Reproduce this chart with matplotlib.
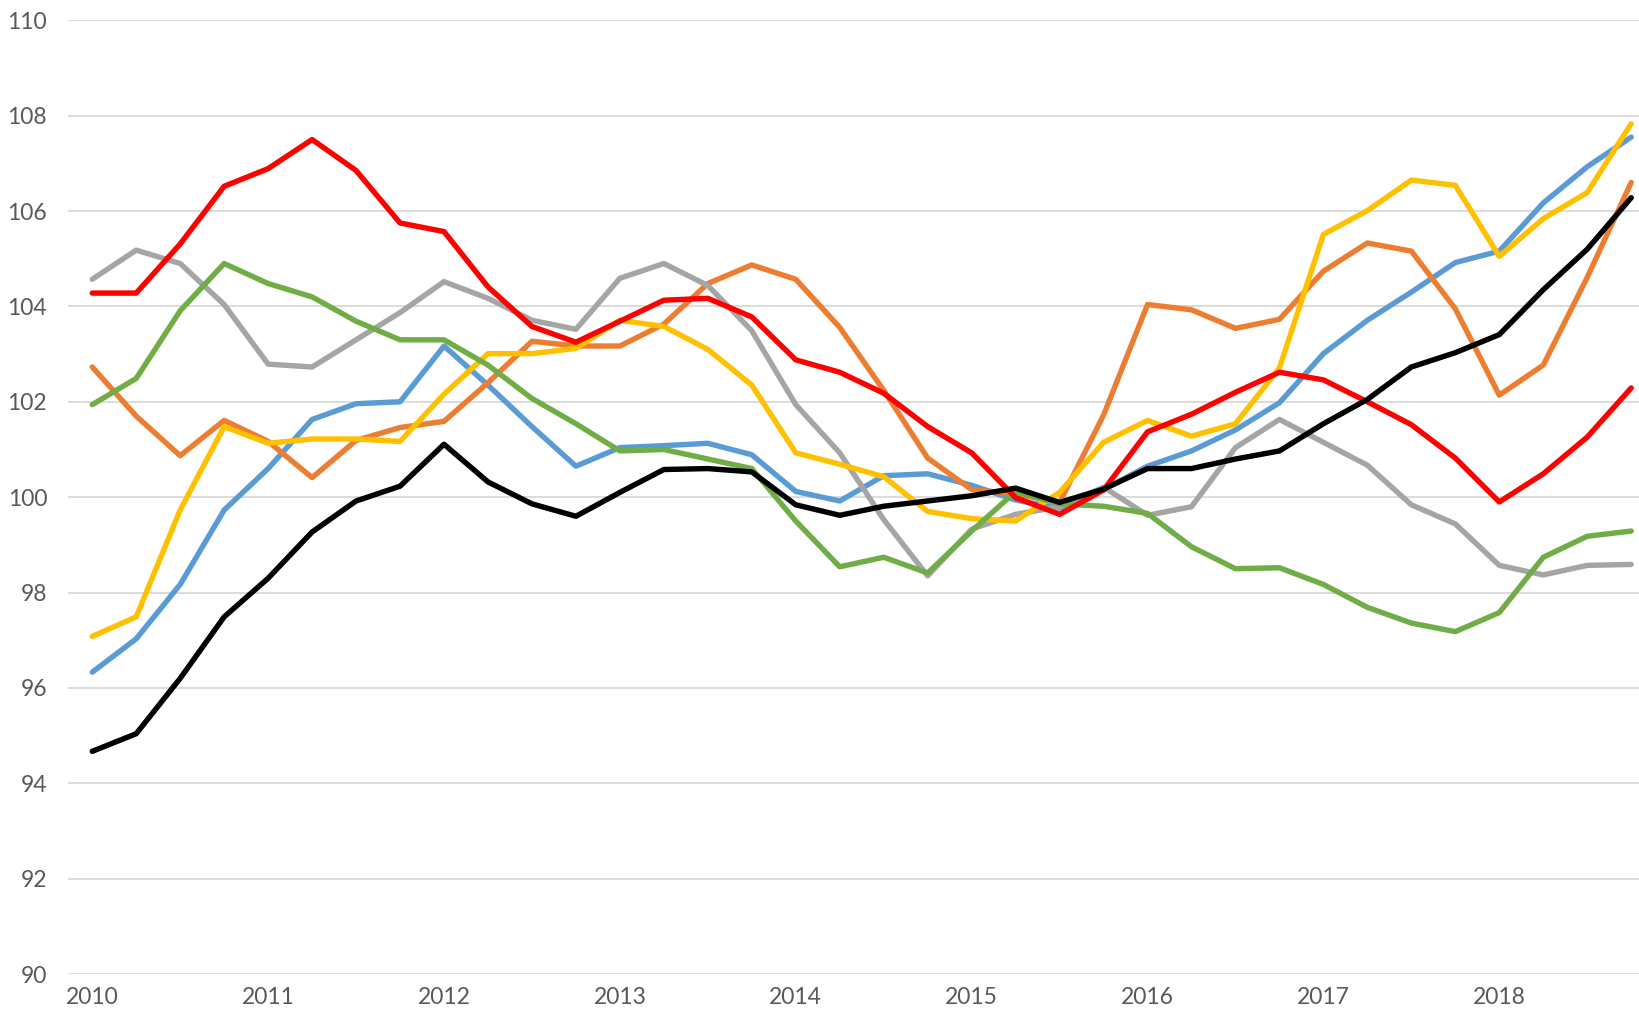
import numpy as np
import matplotlib.pyplot as plt

# quarterly index, 2010Q1 .. 2018Q4
years = list(range(2010, 2019))

blue = [96.33, 97.03, 98.17, 99.73, 100.6, 101.63, 101.96, 102.0, 103.17, 102.35,
        101.48, 100.65, 101.04, 101.08, 101.13, 100.89, 100.12, 99.92, 100.45, 100.49,
        100.25, 99.94, 99.77, 100.16, 100.65, 100.97, 101.41, 101.98, 103.01, 103.71,
        104.3, 104.92, 105.16, 106.17, 106.93, 107.55]
orange = [102.73, 101.7, 100.87, 101.61, 101.17, 100.41, 101.19, 101.46, 101.59, 102.4,
          103.27, 103.17, 103.17, 103.63, 104.48, 104.87, 104.57, 103.56, 102.24, 100.82,
          100.16, 100.07, 99.89, 101.72, 104.04, 103.93, 103.54, 103.73, 104.74, 105.33,
          105.16, 103.95, 102.14, 102.77, 104.61, 106.6]
gray = [104.57, 105.18, 104.9, 104.04, 102.79, 102.73, 103.3, 103.87, 104.52, 104.17,
        103.71, 103.52, 104.59, 104.9, 104.44, 103.49, 101.94, 100.93, 99.53, 98.35,
        99.33, 99.64, 99.8, 100.21, 99.62, 99.8, 101.04, 101.63, 101.15, 100.67,
        99.84, 99.44, 98.57, 98.37, 98.57, 98.59]
yellow = [97.08, 97.49, 99.73, 101.48, 101.13, 101.22, 101.22, 101.17, 102.16, 103.01,
          103.01, 103.12, 103.71, 103.58, 103.1, 102.35, 100.93, 100.69, 100.43, 99.7,
          99.55, 99.5, 100.1, 101.15, 101.61, 101.28, 101.54, 102.71, 105.51, 106.01,
          106.65, 106.54, 105.05, 105.84, 106.39, 107.83]
green = [101.94, 102.49, 103.91, 104.9, 104.48, 104.2, 103.69, 103.3, 103.3, 102.77,
         102.07, 101.54, 100.97, 101.0, 100.8, 100.6, 99.5, 98.54, 98.74, 98.41,
         99.29, 100.12, 99.86, 99.81, 99.66, 98.96, 98.5, 98.52, 98.17, 97.69,
         97.36, 97.18, 97.58, 98.74, 99.18, 99.29]
red = [104.28, 104.28, 105.31, 106.52, 106.89, 107.5, 106.85, 105.75, 105.57, 104.41,
       103.58, 103.25, 103.69, 104.13, 104.17, 103.78, 102.88, 102.62, 102.18, 101.48,
       100.93, 99.99, 99.64, 100.15, 101.37, 101.74, 102.2, 102.62, 102.46, 102.0,
       101.52, 100.82, 99.9, 100.49, 101.26, 102.29]
black = [94.67, 95.04, 96.2, 97.49, 98.3, 99.27, 99.92, 100.23, 101.11, 100.32,
         99.86, 99.6, 100.1, 100.58, 100.6, 100.53, 99.84, 99.62, 99.81, 99.92,
         100.03, 100.19, 99.89, 100.17, 100.6, 100.6, 100.8, 100.97, 101.54, 102.05,
         102.73, 103.03, 103.41, 104.35, 105.2, 106.28]

series = [(blue, '#5B9BD5'), (orange, '#ED7D31'), (gray, '#A5A5A5'),
          (yellow, '#FFC000'), (green, '#70AD47'), (red, '#FF0000'), (black, '#000000')]

plt.rcParams['font.family'] = ['Lato', 'DejaVu Sans']

fig = plt.figure(figsize=(16.4, 10.16), dpi=100)
ax = fig.add_axes([0.0415, 0.0413, 0.9585, 0.9387])

x = np.arange(len(blue))
for vals, col in series:
    ax.plot(x, vals, color=col, lw=3.9, solid_joinstyle='round', solid_capstyle='round')

ax.set_ylim(90, 110)
ax.set_yticks(range(90, 111, 2))
ax.set_xlim(-0.55, 35.2)
ax.set_xticks(np.arange(0, len(blue), 4))
ax.set_xticklabels([str(y) for y in years])
ax.grid(axis='y', color='#D9D9D9', lw=1.3)
ax.set_axisbelow(True)
for s in ax.spines.values():
    s.set_visible(False)
ax.tick_params(length=0, labelsize=16.5, labelcolor='#595959')
ax.tick_params(axis='y', pad=15)
ax.tick_params(axis='x', pad=9)

fig.savefig('out.png', dpi=100)
